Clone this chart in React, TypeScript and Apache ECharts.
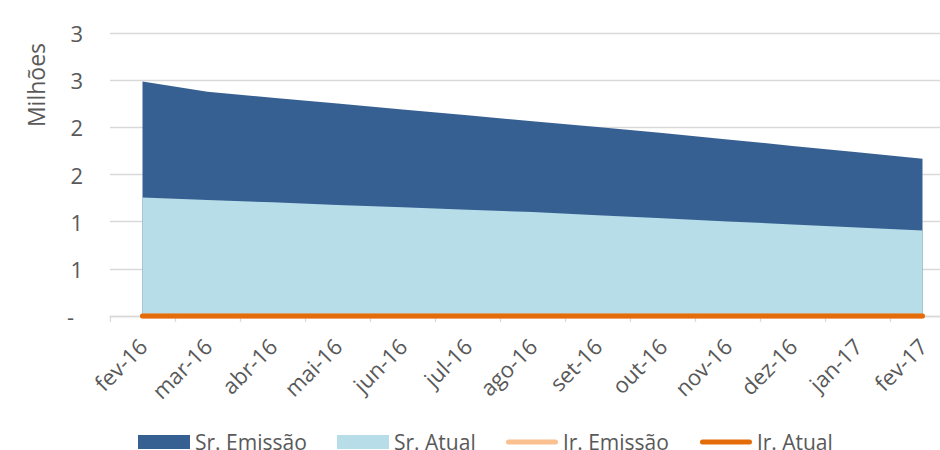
import React, { useEffect, useRef } from "react";
import * as echarts from "echarts";

const categories = [
  "fev-16", "mar-16", "abr-16", "mai-16", "jun-16", "jul-16", "ago-16",
  "set-16", "out-16", "nov-16", "dez-16", "jan-17", "fev-17",
];
// values in millions
const srEmissao = [2.487, 2.378, 2.314, 2.252, 2.19, 2.127, 2.065, 2.003, 1.94, 1.872, 1.803, 1.735, 1.667];
const srAtual = [1.256, 1.23, 1.205, 1.178, 1.153, 1.127, 1.102, 1.068, 1.036, 1.003, 0.971, 0.938, 0.906];
const jrEmissao = [0, 0, 0, 0, 0, 0, 0, 0, 0, 0, 0, 0, 0];
const jrAtual = [0, 0, 0, 0, 0, 0, 0, 0, 0, 0, 0, 0, 0];
const yTickLabels = ["-", "1", "1", "2", "2", "3", "3"];
const yAxisTitle = "Milhões";

const FONT = "Open Sans";
const TXT = "#595959";
const GRID = "#d9d9d9";
const LINE_ICON =
  "path://M0,0 M52,14 M2.5,4.5 L49.5,4.5 A2.5,2.5 0 0 1 49.5,9.5 L2.5,9.5 A2.5,2.5 0 0 1 2.5,4.5 Z";

export default function App() {
  const ref = useRef<HTMLDivElement>(null);
  useEffect(() => {
    document.body.style.margin = "0";
    const chart = echarts.init(ref.current!, null, { renderer: "svg" });
    chart.setOption({
      animation: false,
      textStyle: { fontFamily: FONT, color: TXT },
      grid: {
        left: 110,
        top: 33,
        width: 845,
        height: 283,
        containLabel: false,
        outerBoundsMode: "none",
      },
      xAxis: {
        type: "category",
        data: categories,
        boundaryGap: true,
        axisLine: { lineStyle: { color: GRID, width: 1.3 } },
        axisTick: { show: true, length: 6, lineStyle: { color: GRID, width: 1.3 } },
        axisLabel: { rotate: 45, fontSize: 22, color: TXT, fontFamily: FONT, margin: 26, interval: 0 },
      },
      yAxis: {
        type: "value",
        min: 0,
        max: 3,
        interval: 0.5,
        axisLine: { show: false },
        axisTick: { show: false },
        splitLine: { lineStyle: { color: GRID, width: 1.3 } },
        axisLabel: {
          fontSize: 22,
          color: TXT,
          fontFamily: FONT,
          margin: 27,
          formatter: (v: number) => {
            const s = yTickLabels[Math.round(v / 0.5)] ?? "";
            return s === "-" ? "{d|-}" : s;
          },
          rich: { d: { fontSize: 22, color: TXT, fontFamily: FONT, padding: [0, 9, 0, 0] } },
        },
      },
      legend: {
        left: 138,
        top: 428,
        padding: 0,
        itemWidth: 52,
        itemHeight: 14,
        itemGap: 0,
        itemTextGap: 5,
        textStyle: { fontSize: 21, color: TXT, fontFamily: FONT, lineHeight: 28 },
        data: [
          { name: "Sr. Emissão", icon: "rect", textStyle: { width: 142 } },
          { name: "Sr. Atual", icon: "rect", textStyle: { width: 112 } },
          { name: "Jr. Emissão", icon: LINE_ICON, textStyle: { width: 137 } },
          { name: "Jr. Atual", icon: LINE_ICON },
        ],
      },
      graphic: [
        {
          type: "text",
          x: 36,
          y: 85,
          rotation: Math.PI / 2,
          style: {
            text: yAxisTitle,
            fontSize: 23,
            fontFamily: FONT,
            fill: TXT,
            align: "center",
            verticalAlign: "middle",
          },
        },
      ],
      series: [
        {
          name: "Sr. Emissão",
          type: "line",
          data: srEmissao,
          symbol: "none",
          color: "#376092",
          lineStyle: { width: 0 },
          areaStyle: { color: "#376092", opacity: 1 },
        },
        {
          name: "Sr. Atual",
          type: "line",
          data: srAtual,
          symbol: "none",
          color: "#B7DDE8",
          lineStyle: { width: 0 },
          areaStyle: { color: "#B7DDE8", opacity: 1 },
        },
        {
          name: "Jr. Emissão",
          type: "line",
          data: jrEmissao,
          symbol: "none",
          clip: false,
          color: "#FAC090",
          lineStyle: { width: 5, color: "#FAC090", cap: "round" },
        },
        {
          name: "Jr. Atual",
          type: "line",
          data: jrAtual,
          symbol: "none",
          clip: false,
          color: "#E46C0A",
          lineStyle: { width: 5, color: "#E46C0A", cap: "round" },
        },
      ],
    });
    return () => chart.dispose();
  }, []);
  return <div ref={ref} style={{ width: 940, height: 450, position: "absolute", left: 0, top: 0 }} />;
}
